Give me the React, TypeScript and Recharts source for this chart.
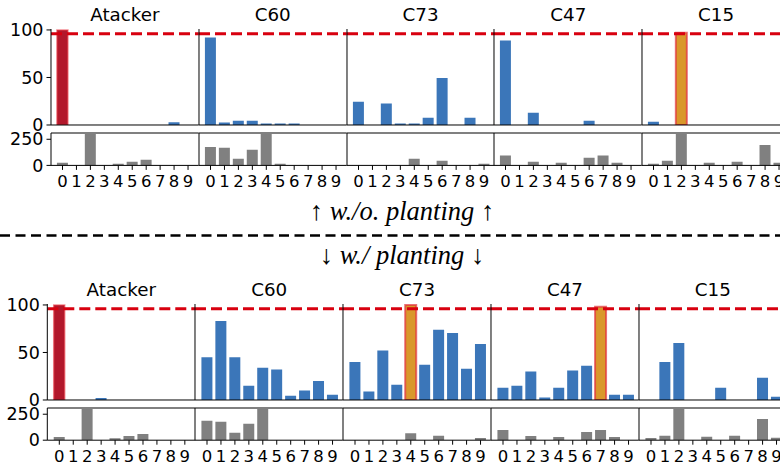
import React from 'react';
import { BarChart, Bar, XAxis, YAxis, Cell, ReferenceLine } from 'recharts';

const CLIENTS = ['Atacker', 'C60', 'C73', 'C47', 'C15'];
const CLASSES = ['0', '1', '2', '3', '4', '5', '6', '7', '8', '9'];
const Y_MAIN_TICKS = [0, 50, 100];
const Y_SMALL_TICKS = [0, 250];
const THRESHOLD = 96;

// w/o. planting: accuracy per class (%)
const woAtacker = [100, 0, 0, 0, 0, 0, 0, 0, 3, 0];
const woC60 = [92, 2.5, 4.5, 4.5, 1.5, 1.5, 1.5, 0, 0, 0];
const woC73 = [24.5, 0, 22.5, 1.5, 1.5, 7.5, 49.5, 0, 7.5, 0];
const woC47 = [89, 0, 13, 0, 0, 0, 4.5, 0, 0, 0];
const woC15 = [3.5, 0, 97, 0, 0, 0, 0, 0, 0, 0];
// w/o. planting: sample counts per class
const woCountAtacker = [26, 0, 500, 0, 16, 35, 54, 0, 0, 0];
const woCountC60 = [177, 168, 63, 149, 500, 16, 0, 0, 0, 0];
const woCountC73 = [0, 0, 0, 0, 63, 0, 44, 0, 0, 16];
const woCountC47 = [95, 0, 35, 0, 25, 0, 73, 95, 25, 0];
const woCountC15 = [16, 44, 500, 0, 25, 0, 35, 0, 196, 25];
const woHighlight = [0, -1, -1, -1, 2];

// w/ planting
const wAtacker = [100, 0, 0, 2, 0, 0, 0, 0, 0, 0];
const wC60 = [45, 83, 45, 15, 34, 32, 4.5, 10, 20, 5.5];
const wC73 = [40, 9, 52, 16, 100, 37, 74, 70.5, 33, 59];
const wC47 = [13, 15, 30, 2.5, 13, 31, 36, 98, 5.5, 5.5];
const wC15 = [0, 40, 60, 0, 0, 13, 0, 0, 23.5, 3.5];
const wCountAtacker = [30, 0, 500, 0, 19, 40, 59, 0, 0, 0];
const wCountC60 = [188, 178, 72, 159, 500, 1, 1, 1, 1, 1];
const wCountC73 = [0, 0, 2, 0, 68, 0, 42, 0, 0, 20];
const wCountC47 = [98, 0, 40, 0, 30, 0, 78, 98, 30, 0];
const wCountC15 = [22, 42, 500, 0, 32, 0, 42, 0, 205, 24];
const wHighlight = [0, -1, 4, 7, -1];

const woValues = [woAtacker, woC60, woC73, woC47, woC15];
const woCounts = [woCountAtacker, woCountC60, woCountC73, woCountC47, woCountC15];
const wValues = [wAtacker, wC60, wC73, wC47, wC15];
const wCounts = [wCountAtacker, wCountC60, wCountC73, wCountC47, wCountC15];

const BLUE = '#3b76b9';
const GREY = '#808080';
const DARKRED = '#b2182b';
const ORANGE = '#d9982b';
const DASHRED = '#d8000f';
const FONT = 'DejaVu Sans';

type Geo = {
  left0: number; pw: number; padL: number; padR: number;
  mainTop: number; mainH: number; smallTop: number; smallH: number; titleY: number;
};

const TOP: Geo = { left0: 51, pw: 147.8, padL: 4.525, padR: 3.775, mainTop: 29.3, mainH: 96, smallTop: 133.3, smallH: 32.4, titleY: 20.7 };
const BOTTOM: Geo = { left0: 47.3, pw: 147.9, padL: 5.025, padR: 3.375, mainTop: 304.3, mainH: 96, smallTop: 408.3, smallH: 32.2, titleY: 296 };

const xTickStyle = { fontSize: 16.5, fill: '#000', fontFamily: FONT };
const yTickStyle = { fontSize: 17.5, fill: '#000', fontFamily: FONT };

function Panel({ geo, k, values, counts, hi }: { geo: Geo; k: number; values: number[]; counts: number[]; hi: number }) {
  const left = geo.left0 + k * geo.pw;
  const first = k === 0;
  const yw = first ? left : 1;
  const cx = first ? 0 : left - 1;
  const w = yw + geo.pw;
  const mainData = CLASSES.map((c, i) => ({ cls: c, v: values[i] }));
  const smallData = CLASSES.map((c, i) => ({ cls: c, n: counts[i] }));
  const MT = 12;
  const MB = 7;
  const ST = 8;
  return (
    <>
      <div style={{ position: 'absolute', left: cx, top: geo.mainTop - MT }}>
        <BarChart width={w} height={MT + geo.mainH + 8 + MB} data={mainData} margin={{ top: MT, right: 0, bottom: MB, left: 0 }}>
          <XAxis dataKey="cls" height={8} tick={false} tickSize={4.5} interval={0}
            padding={{ left: geo.padL, right: geo.padR }} axisLine={{ stroke: '#000' }} tickLine={{ stroke: '#000' }} />
          <YAxis width={yw} domain={[0, 101]} ticks={Y_MAIN_TICKS} allowDataOverflow interval={0}
            tick={first ? yTickStyle : false} tickLine={first ? { stroke: '#000' } : false} tickSize={4.5} tickMargin={3}
            axisLine={{ stroke: '#000' }} />
          <Bar dataKey="v" isAnimationActive={false}>
            {mainData.map((d, i) => {
              if (i === hi) {
                return first
                  ? <Cell key={i} fill={DARKRED} stroke="rgba(235,70,80,0.6)" strokeWidth={1.5} />
                  : <Cell key={i} fill={ORANGE} stroke="rgba(225,50,60,0.7)" strokeWidth={2} />;
              }
              return <Cell key={i} fill={BLUE} />;
            })}
          </Bar>
          <ReferenceLine y={THRESHOLD} stroke={DASHRED} strokeWidth={3} strokeDasharray="11 5" />
        </BarChart>
      </div>
      <div style={{ position: 'absolute', left: cx, top: geo.smallTop - ST }}>
        <BarChart width={w} height={ST + geo.smallH + 30} data={smallData} margin={{ top: ST, right: 0, bottom: 0, left: 0 }}>
          <XAxis dataKey="cls" height={30} tick={xTickStyle} tickSize={4.5} tickMargin={5.5} interval={0}
            padding={{ left: geo.padL, right: geo.padR }} axisLine={{ stroke: '#000' }} tickLine={{ stroke: '#000' }} />
          <YAxis width={yw} domain={[0, 310]} ticks={Y_SMALL_TICKS} allowDataOverflow interval={0}
            tick={first ? yTickStyle : false} tickLine={first ? { stroke: '#000' } : false} tickSize={4.5} tickMargin={3}
            axisLine={{ stroke: '#000' }} />
          <Bar dataKey="n" fill={GREY} isAnimationActive={false} />
          <ReferenceLine y={310} stroke={GREY} strokeWidth={2} />
        </BarChart>
      </div>
    </>
  );
}

function Section({ geo, values, counts, hl }: { geo: Geo; values: number[][]; counts: number[][]; hl: number[] }) {
  return (
    <>
      {CLIENTS.map((c, k) => (
        <Panel key={c} geo={geo} k={k} values={values[k]} counts={counts[k]} hi={hl[k]} />
      ))}
    </>
  );
}

export default function App() {
  return (
    <div style={{ position: 'absolute', left: 0, top: 0, width: 780, height: 466, overflow: 'hidden', background: '#fff', fontFamily: FONT }}>
      <Section geo={TOP} values={woValues} counts={woCounts} hl={woHighlight} />
      <Section geo={BOTTOM} values={wValues} counts={wCounts} hl={wHighlight} />
      <svg width={780} height={466} style={{ position: 'absolute', left: 0, top: 0, pointerEvents: 'none' }}>
        {CLIENTS.map((c, k) => (
          <text key={'t' + c} x={TOP.left0 + k * TOP.pw + TOP.pw / 2} y={TOP.titleY} textAnchor="middle" fontSize={18.3} fontFamily={FONT} fill="#000">{c}</text>
        ))}
        {CLIENTS.map((c, k) => (
          <text key={'b' + c} x={BOTTOM.left0 + k * BOTTOM.pw + BOTTOM.pw / 2} y={BOTTOM.titleY} textAnchor="middle" fontSize={18.3} fontFamily={FONT} fill="#000">{c}</text>
        ))}
        <text x={402} y={220} textAnchor="middle" fontSize={26.5} fontFamily="Liberation Serif" fontStyle="italic" fill="#000">↑ w./o. planting ↑</text>
        <line x1={0} x2={780} y1={235.5} y2={235.5} stroke="#000" strokeWidth={2.5} strokeDasharray="10 5.5" />
        <text x={402} y={264} textAnchor="middle" fontSize={26.5} fontFamily="Liberation Serif" fontStyle="italic" fill="#000">↓ w./ planting ↓</text>
      </svg>
    </div>
  );
}
